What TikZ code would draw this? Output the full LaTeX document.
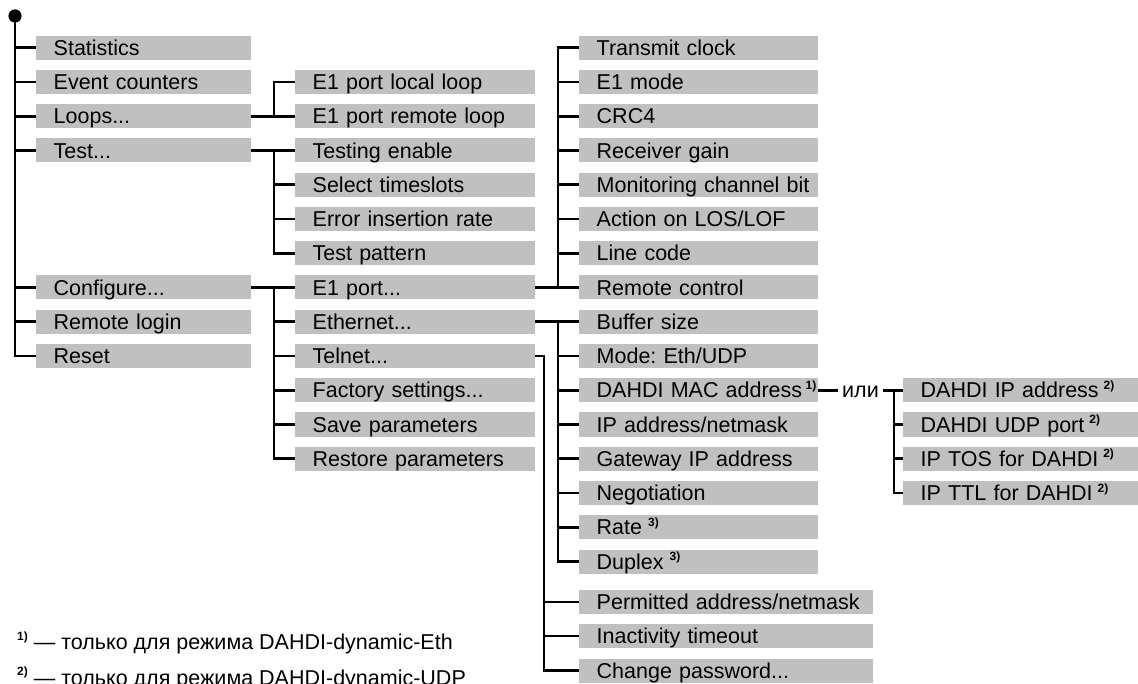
\documentclass[tikz,border=0pt]{standalone}
\usepackage{fontspec}
\setmainfont{Liberation Sans}
\frenchspacing
\definecolor{boxgray}{RGB}{192,192,192}
\newcommand\supmark[1]{{\fontsize{12}{12}\selectfont\bfseries\raisebox{8.5pt}{#1}}}
\newcommand\fnmark[1]{{\fontsize{12}{12}\selectfont\bfseries\raisebox{9.5pt}{#1}}}
\begin{document}
\begin{tikzpicture}[x=1pt,y=-1pt,
  every node/.style={font=\fontsize{21.5}{24}\selectfont},
  txt/.style={inner sep=0pt, text height=19pt, text depth=3.6pt},
  box/.style={txt, fill=boxgray, anchor=west, inner xsep=0pt, inner ysep=0pt,
    minimum height=24pt, align=left, execute at begin node={\hspace*{17.5pt}}},
  wa/.style={box, text width=215pt},
  wb/.style={box, text width=240pt},
  wc/.style={box, text width=239pt},
  wp/.style={box, text width=294pt},
  wd/.style={box, text width=235pt},
  conn/.style={line width=2.9pt, black}]
\useasboundingbox (0,0) rectangle (1138,684);
% branch x positions
\coordinate (c1) at (15,0);
\coordinate (c2) at (274,0);
\coordinate (c3) at (558,0);
\coordinate (c3t) at (544,0);
\coordinate (c4) at (894,0);
% column 1
\node[wa] (stat)  at (36,{82+34.25*(-1)}) {Statistics};
\node[wa] (evc)   at (36,{82+34.25*0}) {Event counters};
\node[wa] (loops) at (36,{82+34.25*1}) {Loops...};
\node[wa] (test)  at (36,{82+34.25*2}) {Test...};
\node[wa] (conf)  at (36,{82+34.25*6}) {Configure...};
\node[wa] (rlog)  at (36,{82+34.25*7}) {Remote login};
\node[wa] (reset) at (36,{82+34.25*8}) {Reset};
% column 2
\node[wb] (lloop) at (295,{82+34.25*0}) {E1 port local loop};
\node[wb] (rloop) at (295,{82+34.25*1}) {E1 port remote loop};
\node[wb] (ten)   at (295,{82+34.25*2}) {Testing enable};
\node[wb] (sel)   at (295,{82+34.25*3}) {Select timeslots};
\node[wb] (err)   at (295,{82+34.25*4}) {Error insertion rate};
\node[wb] (tpat)  at (295,{82+34.25*5}) {Test pattern};
\node[wb] (e1p)   at (295,{82+34.25*6}) {E1 port...};
\node[wb] (eth)   at (295,{82+34.25*7}) {Ethernet...};
\node[wb] (tel)   at (295,{82+34.25*8}) {Telnet...};
\node[wb] (fact)  at (295,{82+34.25*9}) {Factory settings...};
\node[wb] (save)  at (295,{82+34.25*10}) {Save parameters};
\node[wb] (rest)  at (295,{82+34.25*11}) {Restore parameters};
% column 3
\node[wc] (tclk) at (579,{82+34.25*(-1)}) {Transmit clock};
\node[wc] (e1m)  at (579,{82+34.25*0}) {E1 mode};
\node[wc] (crc)  at (579,{82+34.25*1}) {CRC4};
\node[wc] (rxg)  at (579,{82+34.25*2}) {Receiver gain};
\node[wc] (mon)  at (579,{82+34.25*3}) {Monitoring channel bit};
\node[wc] (act)  at (579,{82+34.25*4}) {Action on LOS/LOF};
\node[wc] (lc)   at (579,{82+34.25*5}) {Line code};
\node[wc] (rc)   at (579,{82+34.25*6}) {Remote control};
\node[wc] (buf)  at (579,{82+34.25*7}) {Buffer size};
\node[wc] (mode) at (579,{82+34.25*8}) {Mode: Eth/UDP};
\node[wc] (mac)  at (579,{82+34.25*9}) {\mbox{DAHDI MAC address}\kern3.5pt\supmark{1)}};
\node[wc] (ipn)  at (579,{82+34.25*10}) {IP address/netmask};
\node[wc] (gw)   at (579,{82+34.25*11}) {Gateway IP address};
\node[wc] (neg)  at (579,{82+34.25*12}) {Negotiation};
\node[wc] (rate) at (579,{82+34.25*13}) {Rate\kern6pt\supmark{3)}};
\node[wc] (dup)  at (579,{82+34.25*14}) {Duplex\kern6pt\supmark{3)}};
\node[wp] (perm)  at (579,602) {\mbox{Permitted address/netmask}};
\node[wp] (inact) at (579,636) {Inactivity timeout};
\node[wp] (chpw)  at (579,670.5) {Change password...};
% column 4
\node[txt, inner xsep=4pt] (ili) at (860.5,{82+34.25*9}) {или};
\node[wd] (dip) at (903,{82+34.25*9}) {DAHDI IP address\kern5pt\supmark{2)}};
\node[wd] (udp) at (903,{82+34.25*10}) {DAHDI UDP port\kern5pt\supmark{2)}};
\node[wd] (tos) at (903,{82+34.25*11}) {IP TOS for DAHDI\kern5pt\supmark{2)}};
\node[wd] (ttl) at (903,{82+34.25*12}) {IP TTL for DAHDI\kern5pt\supmark{2)}};
% root
\fill (15,16) circle (6.6pt);
\node[inner sep=0pt] (rootn) at (15,16) {};
% trunk
\draw[conn] (rootn.center) -- (c1 |- reset.west) -- (reset.west);
\foreach \n in {stat,evc,loops,test,conf,rlog}
  \draw[conn] (c1 |- \n.west) -- (\n.west);
% loops
\draw[conn] (loops.east) -- (c2 |- loops.east) |- (lloop.west);
\draw[conn] (c2 |- rloop.west) -- (rloop.west);
% test
\draw[conn] (test.east) -- (ten.west);
\draw[conn] (c2 |- ten.west) |- (tpat.west);
\foreach \n in {sel,err}
  \draw[conn] (c2 |- \n.west) -- (\n.west);
% configure
\draw[conn] (conf.east) -- (e1p.west);
\draw[conn] (c2 |- e1p.west) |- (rest.west);
\foreach \n in {eth,tel,fact,save}
  \draw[conn] (c2 |- \n.west) -- (\n.west);
% E1 port
\draw[conn] (e1p.east) -- (rc.west);
\draw[conn] (c3 |- rc.west) |- (tclk.west);
\foreach \n in {e1m,crc,rxg,mon,act,lc}
  \draw[conn] (c3 |- \n.west) -- (\n.west);
% Ethernet
\draw[conn] (eth.east) -- (buf.west);
\draw[conn] (c3 |- buf.west) |- (dup.west);
\foreach \n in {mode,mac,ipn,gw,neg,rate}
  \draw[conn] (c3 |- \n.west) -- (\n.west);
% Telnet
\draw[conn] (tel.east) -- (c3t |- tel.east) |- (chpw.west);
\foreach \n in {perm,inact}
  \draw[conn] (c3t |- \n.west) -- (\n.west);
% DAHDI alternatives
\draw[conn] (mac.east) -- (ili.west);
\draw[conn] (ili.east) -- (dip.west);
\draw[conn] (c4 |- dip.west) |- (ttl.west);
\foreach \n in {udp,tos}
  \draw[conn] (c4 |- \n.west) -- (\n.west);
% footnotes
\node[anchor=base west, inner sep=0pt] (fn1) at (17,649.5) {\fnmark{1)} — только для режима DAHDI-dynamic-Eth};
\node[anchor=base west, inner sep=0pt] (fn2) at (17,685) {\fnmark{2)} — только для режима DAHDI-dynamic-UDP};
\end{tikzpicture}
\end{document}
